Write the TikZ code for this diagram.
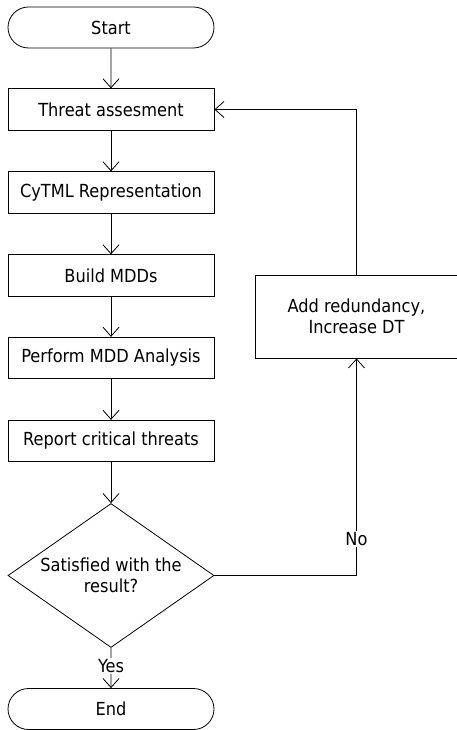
\documentclass[tikz,border=0pt]{standalone}
\usepackage{fontspec}
\setmainfont{DejaVu Sans Condensed}
\usetikzlibrary{shapes.misc,shapes.geometric,arrows.meta}
\begin{document}
\begin{tikzpicture}[x=1pt,y=-1pt,
  font=\fontsize{18}{21}\selectfont,
  every node/.style={inner sep=0pt},
  term/.style={draw, rounded rectangle, minimum width=206pt, minimum height=41pt},
  proc/.style={draw, rectangle, minimum width=206pt, minimum height=41.5pt},
  dec/.style={draw, diamond, aspect=1.43, minimum width=206pt, minimum height=144pt, align=center},
  lbl/.style={fill=white, inner sep=1.5pt},
  conn/.style={line width=0.8pt, -{Straight Barb[length=9pt,width=16pt,line width=0.8pt]}},
  line width=0.8pt]
\useasboundingbox (0,0) rectangle (457,730);
\node[term] (start) at (111,27.5) {Start};
\node[proc] (threat) at (111,109.5) {Threat assesment};
\node[proc] (cytml) at (111,192.5) {CyTML Representation};
\node[proc] (build) at (111,275.5) {Build MDDs};
\node[proc] (perform) at (111,358) {Perform MDD Analysis};
\node[proc] (report) at (111,441) {Report critical threats};
\node[dec] (sat) at (111,575.5) {Satisfied with the\\result?};
\node[term] (end) at (111,709) {End};
\node[proc, minimum width=202pt, minimum height=83pt, align=center] (add) at (356.5,316.5) {Add redundancy,\\Increase DT};
\draw[conn] (start) -- (threat);
\draw[conn] (threat) -- (cytml);
\draw[conn] (cytml) -- (build);
\draw[conn] (build) -- (perform);
\draw[conn] (perform) -- (report);
\draw[conn] (report) -- (sat);
\draw[conn] (sat) -- node[lbl, pos=0.45] (yes) {Yes} (end);
\draw[conn] (sat.east) -| node[lbl, pos=0.584] (no) {No} (add.south);
\draw[conn] (add.north) |- (threat.east);
\end{tikzpicture}
\end{document}
